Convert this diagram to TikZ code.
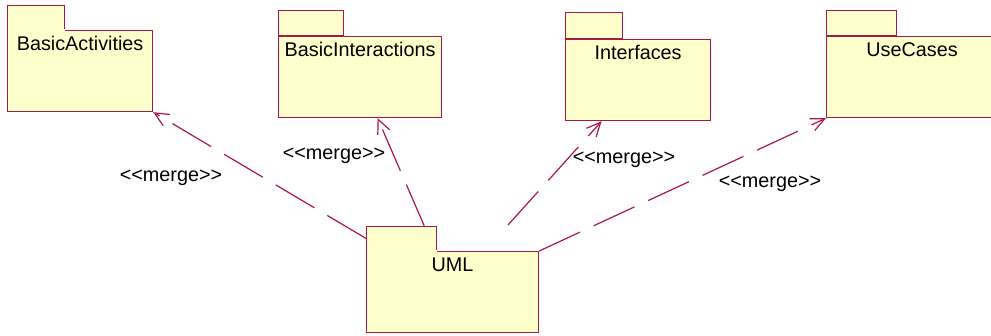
\documentclass[tikz,border=0pt]{standalone}
\usepackage{fontspec}
\setmainfont{Liberation Sans}[Ligatures=TeXOff]
\usetikzlibrary{arrows.meta}
\usetikzlibrary{calc}
\usetikzlibrary{positioning}

\definecolor{pkgline}{RGB}{168,24,72}
\definecolor{pkgfill}{RGB}{255,255,204}

\begin{document}
\begin{tikzpicture}[x = 1pt, y = -1pt, line width = 1.2pt,
    pkgbody/.style = {draw = pkgline, fill = pkgfill, rectangle, inner sep = 0pt, anchor = north west},
    pkgtab/.style = {pkgbody, anchor = south west},
    pkgname/.style = {font = \fontsize{19.8}{22}\selectfont, inner sep = 0pt, anchor = base},
    merges/.style = {draw = pkgline, dash pattern = on 45pt off 15pt,
        -{Straight Barb[length = 14pt, width = 13pt]}}]

    \clip[use as bounding box] (0,0) rectangle (991,335);

    \def\pkgH{81}

    % packages: body, tab, name
    \foreach \NAME/\X/\Y/\W/\TW/\TH/\TEXT in {act/7/30/145/57/24/BasicActivities,
            int/278/36/163/65/25/BasicInteractions, ifc/565/39/145/57/26/Interfaces,
            use/826/36/171/70/25/UseCases, uml/366/251/172/70/24/UML}{
        \node[pkgbody, minimum width = \W pt, minimum height = \pkgH pt] (\NAME) at (\X,\Y) {};
        \node[pkgtab, minimum width = \TW pt, minimum height = \TH pt] (\NAME-tab) at (\NAME.north west) {};
        \node[pkgname] (\NAME-txt) at ([yshift = -20.5pt]\NAME.north) {\TEXT};
    }

    % these two have no line under the tab
    \foreach \NAME in {act, uml}
        \fill[pkgfill] ($(\NAME-tab.south west)+(0.6,-1)$) rectangle ($(\NAME-tab.south east)+(-0.6,1)$);

    \coordinate (ifcFrom) at (508,225);

    \draw[merges] (uml-tab.west) -- (act.south east);
    \draw[merges] ([xshift = -13pt]uml-tab.north east) -- ([xshift = 17.5pt]int.south);
    \draw[merges] (ifcFrom) -- ([xshift = -36.5pt]ifc.south);
    \draw[merges] (uml.north east) -- (use.south west);

    \node[pkgname] (mergeI)   at (171,181) {<<merge>>};
    \node[pkgname] (mergeII)  at (334,159) {<<merge>>};
    \node[pkgname] (mergeIII) at (624,163) {<<merge>>};
    \node[pkgname] (mergeIV)  at (770,187) {<<merge>>};

\end{tikzpicture}
\end{document}
